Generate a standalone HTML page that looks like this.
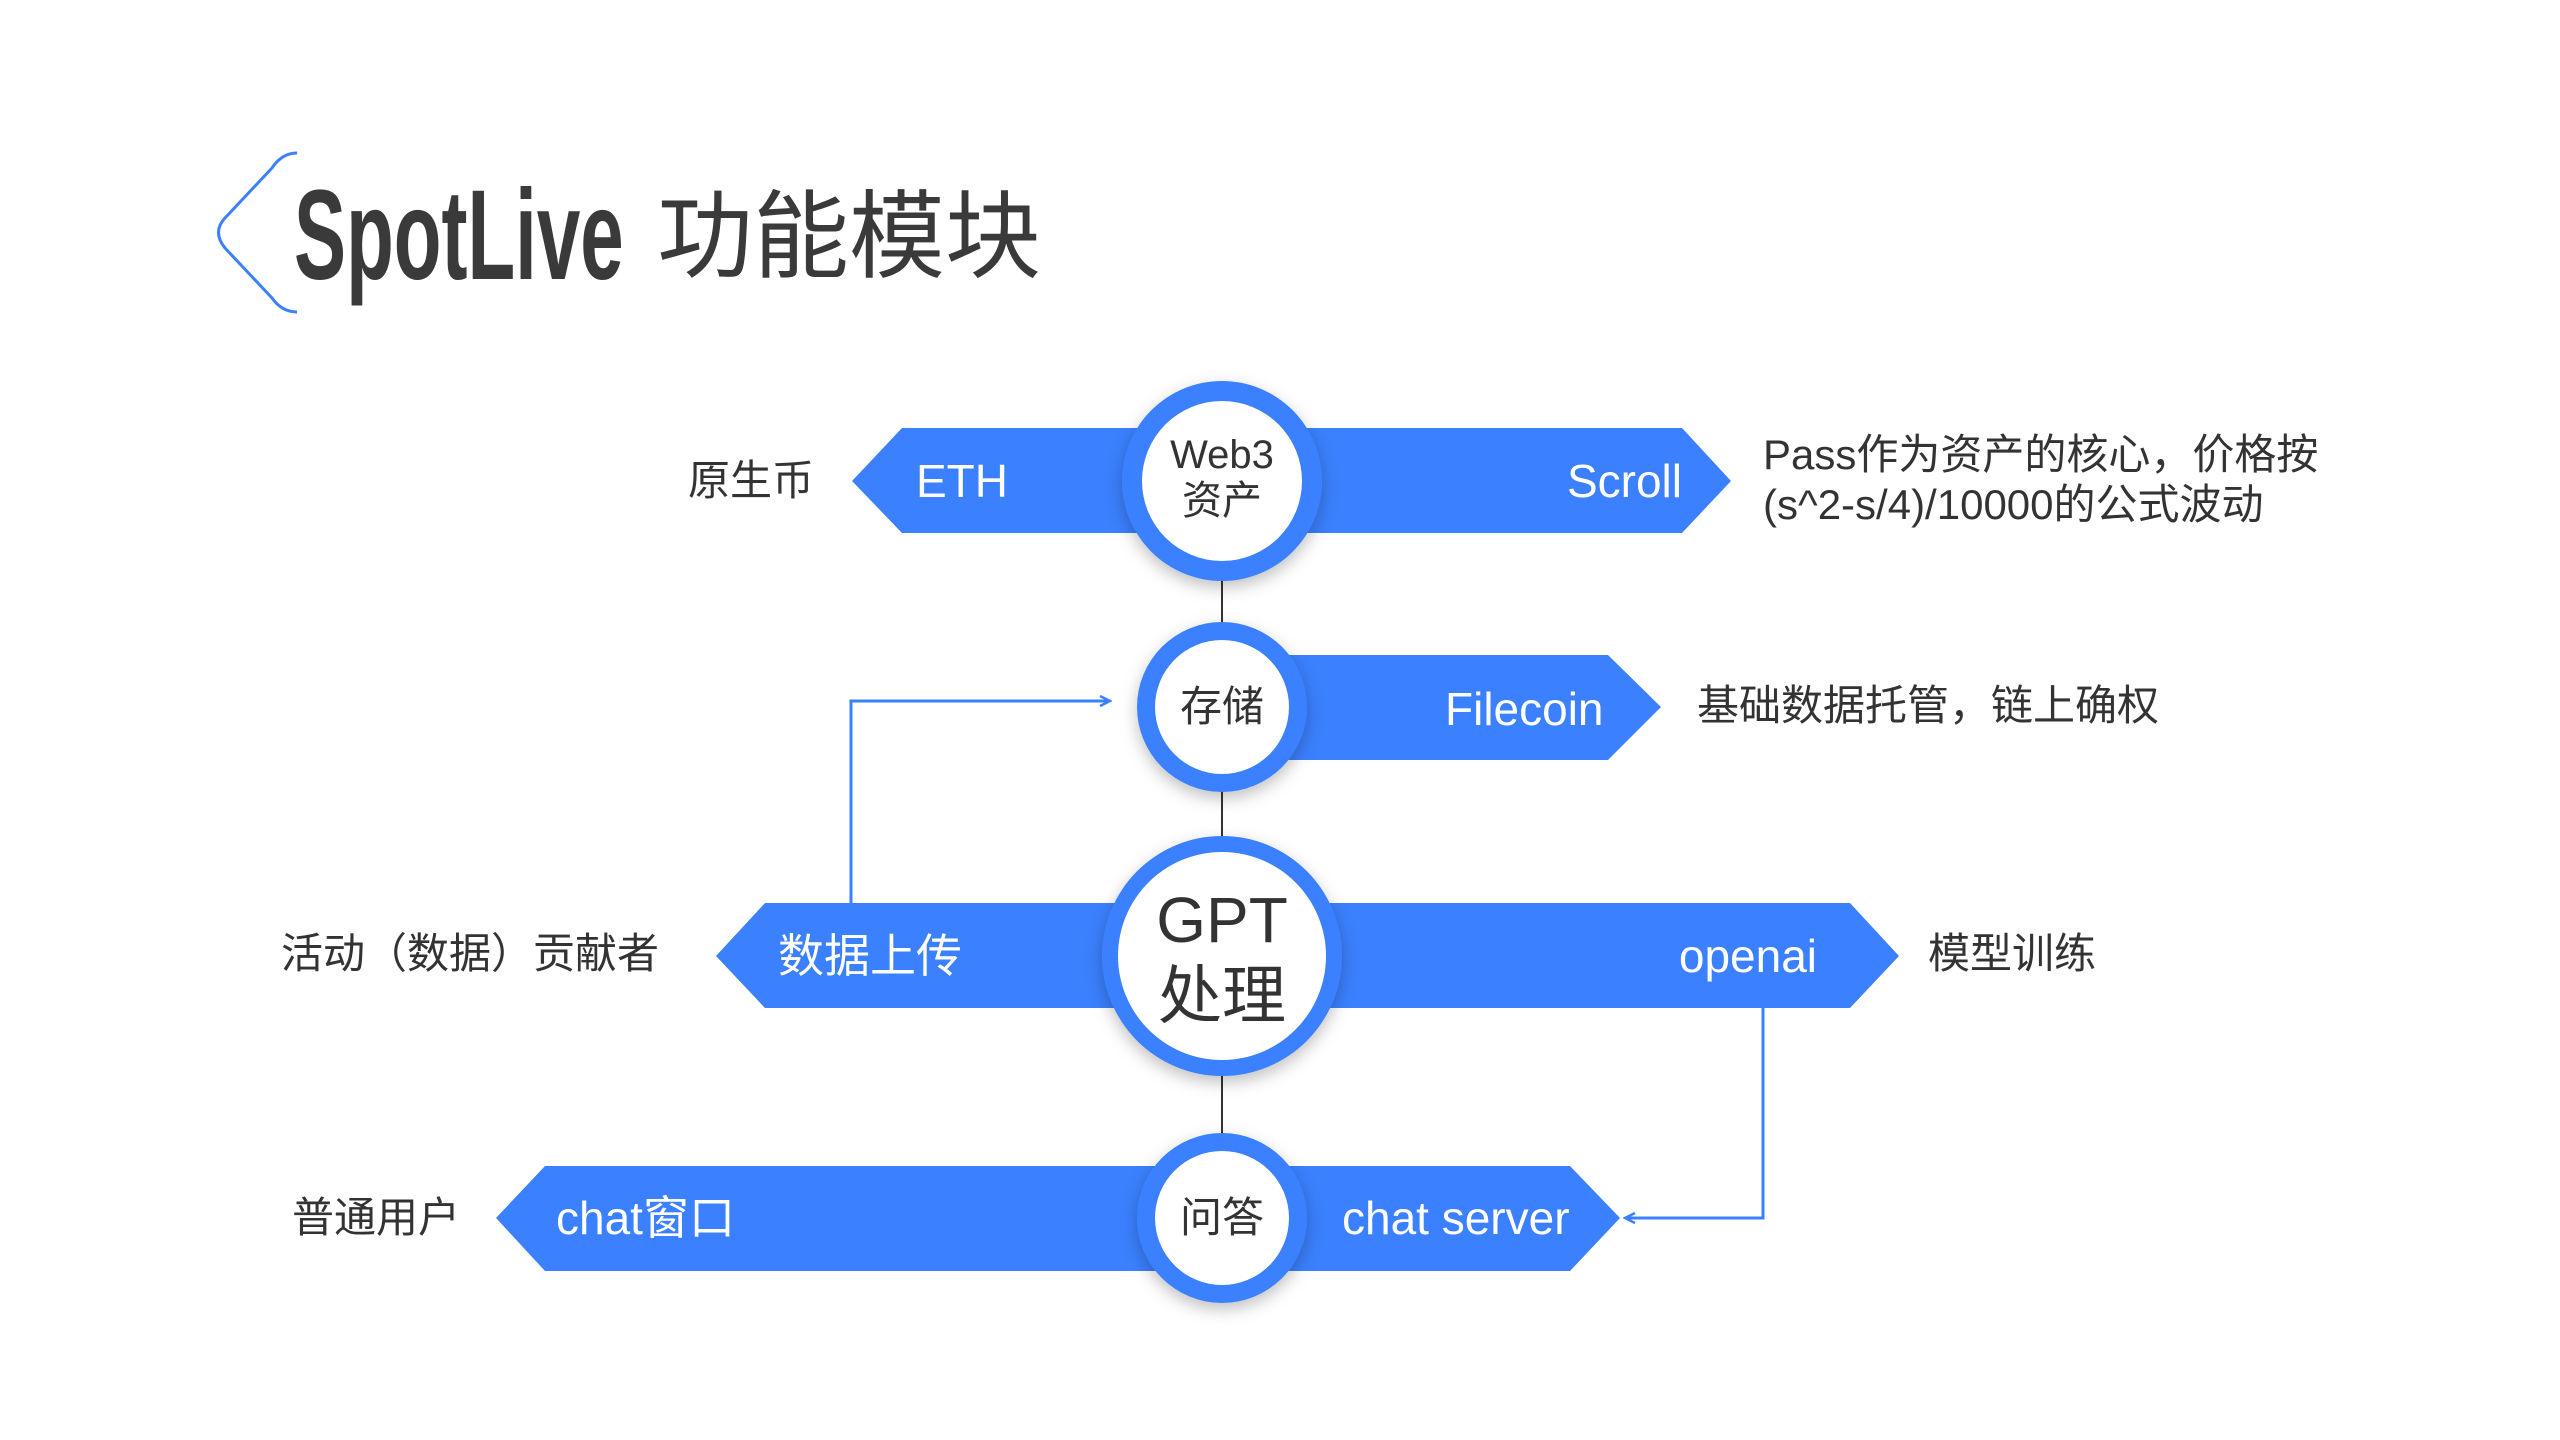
<!DOCTYPE html>
<html><head><meta charset="utf-8"><style>
html,body{margin:0;padding:0;background:#fff;}
body{width:2560px;height:1440px;position:relative;overflow:hidden;font-family:"Liberation Sans","Noto Sans CJK SC",sans-serif;}
.t{position:absolute;white-space:nowrap;line-height:1;}
.w{color:#fff;font-size:46px;}
.d{color:#333;font-size:42px;}
#dg{position:absolute;left:0;top:0;width:2560px;height:1440px;transform:translate(-7px,-4px);}
</style></head><body>
<svg width="2560" height="400" style="position:absolute;left:0;top:0">
<path d="M297,153 Q282,153 272,168 L225,218 Q212,232 225,248 L272,298 Q282,312 297,312" fill="none" stroke="#3b80fe" stroke-width="3"/>
</svg>
<div class="t" style="left:294px;top:172px;font-size:128px;font-weight:bold;color:#3a3a3a;transform:scaleX(0.61);transform-origin:left top;">SpotLive</div>
<div class="t" style="left:657px;top:190px;font-size:96px;color:#3a3a3a;">功能模块</div>
<div id="dg">
<svg width="2560" height="1440" style="position:absolute;left:0;top:0">
<defs><filter id="sh" x="-30%" y="-30%" width="160%" height="160%"><feDropShadow dx="0" dy="6" stdDeviation="8" flood-color="#000" flood-opacity="0.25"/></filter>
<marker id="ar" markerWidth="14" markerHeight="14" refX="12" refY="7" orient="auto" markerUnits="userSpaceOnUse"><path d="M2,2 L12,7 L2,12" fill="none" stroke="#3b80fe" stroke-width="2.5"/></marker></defs>
<g stroke="#333" stroke-width="2"><line x1="1229" y1="580" x2="1229" y2="630"/><line x1="1229" y1="790" x2="1229" y2="845"/><line x1="1229" y1="1075" x2="1229" y2="1140"/></g>
<g fill="#3b80fe">
<polygon points="859,485 909,432 1689,432 1738,485 1689,537 909,537"/>
<polygon points="1229,659 1615,659 1668,711 1615,764 1229,764"/>
<polygon points="723,960 772,907 1857,907 1906,960 1857,1012 772,1012"/>
<polygon points="503,1222 552,1170 1577,1170 1627,1222 1577,1275 552,1275"/>
</g>
<polyline points="858,907 858,705 1117,705" fill="none" stroke="#3b80fe" stroke-width="3" marker-end="url(#ar)"/>
<polyline points="1770,1012 1770,1222 1632,1222" fill="none" stroke="#3b80fe" stroke-width="3" marker-end="url(#ar)"/>
<g filter="url(#sh)" fill="#3b80fe">
<circle cx="1229" cy="485" r="100"/><circle cx="1229" cy="711" r="85"/><circle cx="1229" cy="960" r="120"/><circle cx="1229" cy="1222" r="85"/>
</g>
<g fill="#fff"><circle cx="1229" cy="485" r="80"/><circle cx="1229" cy="711" r="67"/><circle cx="1229" cy="960" r="104"/><circle cx="1229" cy="1222" r="67"/></g>
</svg>
<div class="t d" style="left:695px;top:464px;">原生币</div>
<div class="t w" style="left:923px;top:462px;">ETH</div>
<div class="t w" style="left:1569px;top:462px;width:120px;text-align:right;">Scroll</div>
<div class="t" style="left:1129px;top:436px;width:200px;text-align:center;font-size:40px;color:#333;line-height:46px;">Web3<br>资产</div>
<div class="t d" style="left:1770px;top:434px;line-height:50px;">Pass作为资产的核心，价格按<br>(s^2-s/4)/10000的公式波动</div>
<div class="t d" style="left:1187px;top:690px;">存储</div>
<div class="t w" style="left:1452px;top:690px;">Filecoin</div>
<div class="t d" style="left:1704px;top:689px;">基础数据托管，链上确权</div>
<div class="t" style="left:1129px;top:886px;width:200px;text-align:center;font-size:64px;color:#333;line-height:76px;">GPT<br>处理</div>
<div class="t d" style="left:288px;top:937px;">活动（数据）贡献者</div>
<div class="t w" style="left:785px;top:937px;">数据上传</div>
<div class="t w" style="left:1624px;top:937px;width:200px;text-align:right;">openai</div>
<div class="t d" style="left:1935px;top:937px;">模型训练</div>
<div class="t d" style="left:299px;top:1201px;">普通用户</div>
<div class="t w" style="left:563px;top:1199px;">chat窗口</div>
<div class="t d" style="left:1187px;top:1201px;">问答</div>
<div class="t w" style="left:1349px;top:1199px;">chat server</div>
</div>
</body></html>
